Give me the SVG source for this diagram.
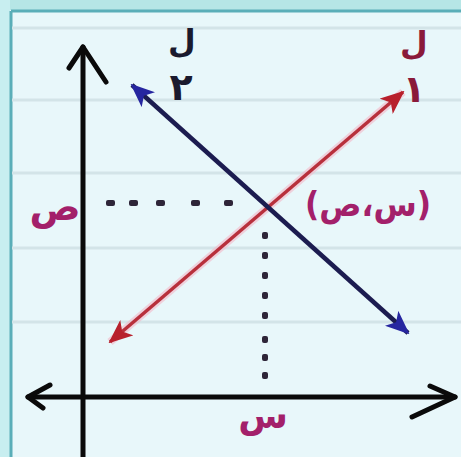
<svg xmlns="http://www.w3.org/2000/svg" width="461" height="457" viewBox="0 0 461 457">
<style>
.rule{stroke:#d3e4e8;stroke-width:3}
.axis{stroke:#0a0a0a;stroke-width:5;fill:none;stroke-linecap:round;stroke-linejoin:round}
.dot{fill:#2e2538}
.lbl{font-family:"DejaVu Sans",sans-serif;fill:#a3206a;font-weight:bold}
.ll{font-family:"DejaVu Sans",sans-serif;font-weight:bold}
</style>
<defs>
<marker id="bArr" markerUnits="userSpaceOnUse" viewBox="0 0 24 20" refX="22" refY="10" markerWidth="24" markerHeight="20" orient="auto-start-reverse">
<path d="M0,0 L24,10 L0,20 L6,10 z" fill="#2626a0"/>
</marker>
<marker id="rArr" markerUnits="userSpaceOnUse" viewBox="0 0 24 20" refX="22" refY="10" markerWidth="24" markerHeight="20" orient="auto-start-reverse">
<path d="M0,0 L24,10 L0,20 L6,10 z" fill="#b8202c"/>
</marker>
</defs>
<rect x="0" y="0" width="461" height="457" fill="#e8f7fa"/>
<rect x="0" y="0" width="461" height="10" fill="#b6e6e6"/>
<rect x="0" y="0" width="10" height="457" fill="#c8eef0"/>
<line x1="11" y1="11" x2="461" y2="11" stroke="#5aaeb8" stroke-width="3"/>
<line x1="11" y1="11" x2="11" y2="457" stroke="#5aaeb8" stroke-width="3"/>
<g id="rules">
<line class="rule" x1="12" y1="28" x2="461" y2="28"/>
<line class="rule" x1="12" y1="100" x2="461" y2="100"/>
<line class="rule" x1="12" y1="173" x2="461" y2="173"/>
<line class="rule" x1="12" y1="248" x2="461" y2="248"/>
<line class="rule" x1="12" y1="322" x2="461" y2="322"/>
</g>
<g id="axes">
<line class="axis" x1="83" y1="47" x2="83" y2="457"/>
<polyline class="axis" points="69,68 83,47 106,82"/>
<line class="axis" x1="28" y1="397" x2="455" y2="397"/>
<polyline class="axis" points="50,385 28,397 43,408"/>
<polyline class="axis" points="430,386 455,397 412,417"/>
</g>
<g id="guides">
<rect class="dot" x="106" y="200" width="9" height="6" rx="2"/>
<rect class="dot" x="129" y="200" width="9" height="6" rx="2"/>
<rect class="dot" x="156" y="200" width="9" height="6" rx="2"/>
<rect class="dot" x="191" y="200" width="9" height="6" rx="2"/>
<rect class="dot" x="224" y="200" width="9" height="6" rx="2"/>
<rect class="dot" x="262" y="232" width="6" height="7" rx="2"/>
<rect class="dot" x="262" y="252" width="6" height="7" rx="2"/>
<rect class="dot" x="262" y="272" width="6" height="7" rx="2"/>
<rect class="dot" x="262" y="292" width="6" height="7" rx="2"/>
<rect class="dot" x="262" y="312" width="6" height="7" rx="2"/>
<rect class="dot" x="262" y="336" width="6" height="7" rx="2"/>
<rect class="dot" x="262" y="354" width="6" height="7" rx="2"/>
<rect class="dot" x="262" y="372" width="6" height="7" rx="2"/>
</g>
<g id="connectors">
<line x1="110" y1="342" x2="403" y2="92" stroke="#f4b8c8" stroke-width="8" stroke-opacity="0.6"/>
<line id="l1" x1="110" y1="342" x2="403" y2="92" stroke="#b8303c" stroke-width="3.5" marker-start="url(#rArr)" marker-end="url(#rArr)"/>
<line id="l2" x1="132" y1="85" x2="408" y2="333" stroke="#1c1c50" stroke-width="4.5" marker-start="url(#bArr)" marker-end="url(#bArr)"/>
</g>
<g id="labels">
<text class="lbl" x="55" y="220" font-size="38" text-anchor="middle" direction="rtl">ص</text>
<text class="lbl" x="368" y="216" font-size="34" text-anchor="middle" direction="rtl" textLength="126" lengthAdjust="spacingAndGlyphs">(س،ص)</text>
<text class="lbl" x="263" y="428" font-size="36" text-anchor="middle" direction="rtl">س</text>
<text class="ll" fill="#1a1a2e" text-anchor="middle"><tspan x="182" y="52" font-size="32">ل</tspan><tspan x="181" y="100" font-size="38">٢</tspan></text>
<text class="ll" fill="#8a1a3a" text-anchor="middle"><tspan x="414" y="54" font-size="32">ل</tspan><tspan x="414" y="102" font-size="38">١</tspan></text>
</g>
</svg>
